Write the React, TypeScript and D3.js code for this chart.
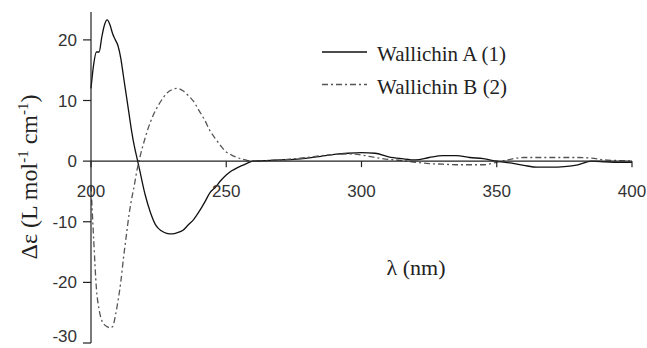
import React from "react";
import * as d3 from "d3";

// wavelengths (nm) shared by both spectra
const wavelengths = [
  200, 201, 202, 203, 204, 205, 206, 207, 208, 209, 210, 211, 212, 213, 214, 215, 216, 217, 218, 220,
  222, 224, 226, 228, 230, 232, 234, 236, 238, 240, 242, 244, 246, 248, 250, 252, 254, 256, 258, 260,
  265, 270, 275, 280, 285, 290, 295, 300, 305, 310, 315, 320, 325, 330, 335, 340, 345, 350, 355, 360,
  365, 370, 375, 380, 385, 390, 395, 400,
];

// Wallichin A (1) - solid
const wallichinA = [
  12, 16, 18, 18, 20.5, 22.5, 23.3, 22.5, 21, 20, 19, 17, 14, 11, 8, 5, 2.5, 0.5, -1.5, -5.5,
  -8.5, -10.6, -11.5, -11.9, -12, -11.8, -11.4, -10.5, -9.6, -8.3, -6.8, -5.2, -4.3, -3.2, -2.3, -1.6, -1.1, -0.7, -0.3, 0,
  0.1, 0.2, 0.3, 0.5, 0.8, 1.1, 1.3, 1.4, 1.3, 0.7, 0.4, 0.2, 0.6, 0.9, 0.9, 0.6, 0.4, 0, -0.3, -0.7,
  -1.0, -1.0, -0.9, -0.6, 0, -0.1, -0.2, -0.2,
];

// Wallichin B (2) - dash dot
const wallichinB = [
  -4, -13, -21, -24.5, -26.3, -27, -27.3, -27.5, -27.3, -25.5, -23, -20, -16, -12.5, -9, -6.3, -4, -1.5, 0.5, 3.8,
  6.5, 8.5, 10, 11.2, 11.8, 12, 11.6, 10.8, 9.8, 8.3, 6.8, 5, 3.7, 2.5, 1.5, 1, 0.6, 0.3, 0.1, 0,
  0.1, 0.2, 0.4, 0.6, 0.9, 1.1, 1.2, 1, 0.6, 0.3, 0.1, -0.2, -0.4, -0.5, -0.6, -0.6, -0.6, -0.2, 0.3, 0.6,
  0.6, 0.6, 0.6, 0.6, 0.5, 0.2, 0.1, 0,
];

const xTicks = [200, 250, 300, 350, 400];
const yTicks = [-30, -20, -10, 0, 10, 20];
const seriesNames = ["Wallichin A (1)", "Wallichin B (2)"];

const sans = "'Liberation Sans', Arial, sans-serif";
const serif = "'Liberation Serif', 'Times New Roman', serif";

export default function App() {
  const width = 647;
  const height = 348;

  const x = d3.scaleLinear().domain([200, 400]).range([91, 632]);
  const y = d3.scaleLinear().domain([-30, 24.6]).range([343, 12]);
  const y0 = y(0);

  const line = d3
    .line<number>()
    .x((_, i) => x(wavelengths[i]))
    .y((d) => y(d))
    .curve(d3.curveMonotoneX);

  const series = [
    { name: seriesNames[0], values: wallichinA, color: "#111", dash: "none" },
    { name: seriesNames[1], values: wallichinB, color: "#555", dash: "6,3,2,3" },
  ];

  return (
    <svg
      width={width}
      height={height}
      style={{ position: "absolute", left: 0, top: 0, background: "#fff" }}
    >
      {series.map((s) => (
        <path
          key={s.name}
          d={line(s.values) || ""}
          fill="none"
          stroke={s.color}
          strokeWidth={1.3}
          strokeDasharray={s.dash}
        />
      ))}

      {/* y axis */}
      <line x1={x(200)} x2={x(200)} y1={y(24.6)} y2={y(-30)} stroke="#222" strokeWidth={1.2} />
      {yTicks.map((t) => (
        <g key={t}>
          <line x1={x(200) - 8} x2={x(200)} y1={y(t)} y2={y(t)} stroke="#222" strokeWidth={1.2} />
          <text
            x={x(200) - 14}
            y={Math.min(y(t) + 6, 342)}
            textAnchor="end"
            fontFamily={sans}
            fontSize={17}
            fill="#333"
          >
            {t}
          </text>
        </g>
      ))}

      {/* x axis at zero */}
      <line x1={x(200)} x2={x(400)} y1={y0} y2={y0} stroke="#222" strokeWidth={1.2} />
      {xTicks.map((t) => (
        <g key={t}>
          <line x1={x(t)} x2={x(t)} y1={y0} y2={y0 + 6} stroke="#222" strokeWidth={1.2} />
          <text x={x(t)} y={y0 + 36} textAnchor="middle" fontFamily={sans} fontSize={17} fill="#333">
            {t}
          </text>
        </g>
      ))}

      {/* legend */}
      {series.map((s, i) => (
        <g key={s.name} transform={`translate(322, ${52 + i * 32.5})`}>
          <line x1={0} x2={45} y1={0} y2={0} stroke={s.color} strokeWidth={1.3} strokeDasharray={s.dash} />
          <text x={55} y={9} fontFamily={serif} fontSize={21} fill="#222">
            {s.name}
          </text>
        </g>
      ))}

      {/* axis titles */}
      <text x={416} y={275} textAnchor="middle" fontFamily={serif} fontSize={22} fill="#222">
        λ (nm)
      </text>
      <text
        transform="translate(37, 177) rotate(-90)"
        textAnchor="middle"
        fontFamily={serif}
        fontSize={24}
        fill="#222"
      >
        Δε (L mol
        <tspan dy={-9} fontSize={15}>-1</tspan>
        <tspan dy={9}> cm</tspan>
        <tspan dy={-9} fontSize={15}>-1</tspan>
        <tspan dy={9}>)</tspan>
      </text>
    </svg>
  );
}
